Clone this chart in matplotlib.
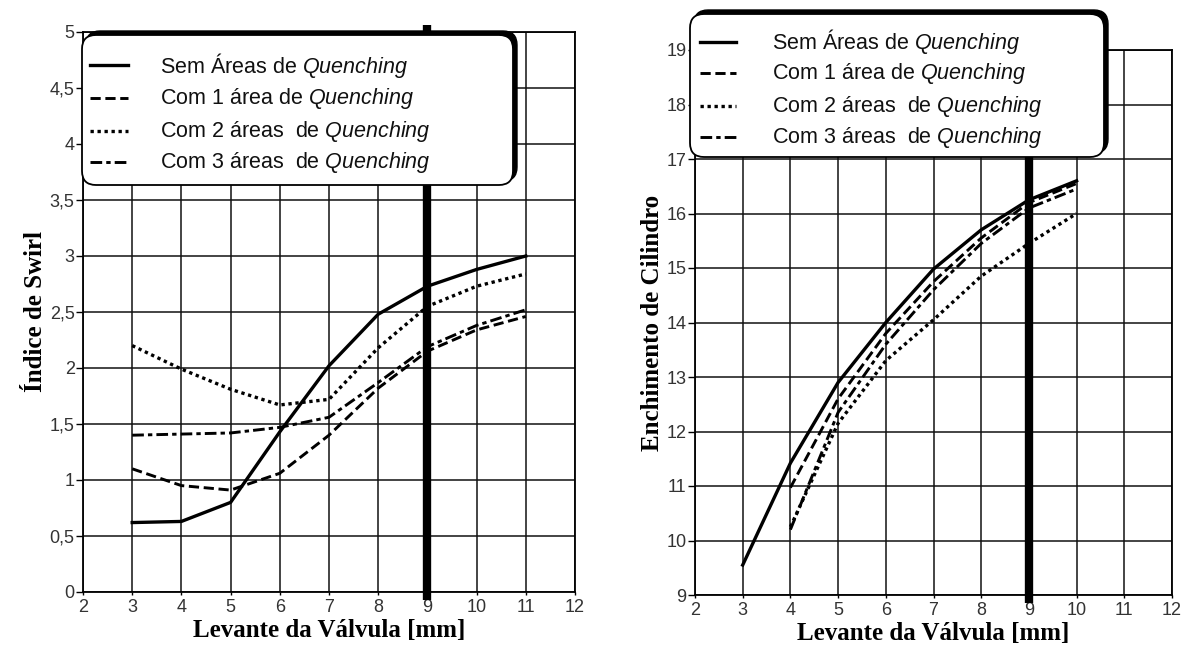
import matplotlib
matplotlib.use("Agg")
import matplotlib.pyplot as plt
from matplotlib.patches import FancyBboxPatch
from matplotlib.lines import Line2D
from matplotlib.ticker import FuncFormatter, MultipleLocator

plt.rcParams['font.family'] = ['Liberation Sans', 'DejaVu Sans']
plt.rcParams['mathtext.fontset'] = 'custom'
plt.rcParams['mathtext.it'] = 'Liberation Sans:italic'
plt.rcParams['mathtext.rm'] = 'Liberation Sans'

# levante da válvula [mm]
lift_swirl = [3, 4, 5, 6, 7, 8, 9, 10, 11]
# índice de swirl por configuração
swirl_sem = [0.62, 0.63, 0.80, 1.43, 2.02, 2.48, 2.73, 2.88, 3.00]
swirl_1 = [1.10, 0.95, 0.91, 1.06, 1.40, 1.82, 2.15, 2.34, 2.46]
swirl_2 = [2.20, 1.99, 1.81, 1.67, 1.72, 2.18, 2.55, 2.73, 2.84]
swirl_3 = [1.40, 1.41, 1.42, 1.47, 1.56, 1.87, 2.19, 2.38, 2.52]

# enchimento de cilindro
lift_fill_sem = [3, 4, 5, 6, 7, 8, 9, 10]
lift_fill_com = [4, 5, 6, 7, 8, 9, 10]
fill_sem = [9.55, 11.42, 12.9, 14.0, 14.98, 15.7, 16.25, 16.6]
fill_1 = [10.97, 12.6, 13.8, 14.75, 15.55, 16.2, 16.55]
fill_2 = [10.25, 12.15, 13.3, 14.05, 14.85, 15.45, 16.0]
fill_3 = [10.2, 12.35, 13.6, 14.6, 15.45, 16.1, 16.45]

labels = ["Sem Áreas de $\\mathit{Quenching}$",
          "Com 1 área de $\\mathit{Quenching}$",
          "Com 2 áreas  de $\\mathit{Quenching}$",
          "Com 3 áreas  de $\\mathit{Quenching}$"]

lift_ref = 9  # levante de referência (linha grossa)

estilos = [dict(ls='-', lw=2.4),
           dict(ls=(0, (3.5, 1.6)), lw=2.1),
           dict(ls=(0, (1, 1.1)), lw=2.4),
           dict(ls=(0, (4, 1.4, 1.5, 1.4)), lw=2.1)]

W, H = 11.94, 6.51
fig = plt.figure(figsize=(W, H), dpi=100)
ax1 = fig.add_axes([83 / 1194, 59 / 651, 492 / 1194, 560 / 651])
ax2 = fig.add_axes([695 / 1194, 56 / 651, 477 / 1194, 545 / 651])


def virgula(v, pos):
    return f"{v:g}".replace('.', ',')


def prepara(ax, ylim, ystep, ylabel):
    ax.set_xlim(2, 12)
    ax.set_ylim(*ylim)
    ax.xaxis.set_major_locator(MultipleLocator(1))
    ax.yaxis.set_major_locator(MultipleLocator(ystep))
    ax.yaxis.set_major_formatter(FuncFormatter(virgula))
    ax.grid(True, color='#111111', lw=1.1)
    ax.set_axisbelow(True)
    for s in ax.spines.values():
        s.set_linewidth(1.3)
    ax.tick_params(axis='y', direction='out', length=5, width=1,
                   labelsize=13, labelcolor='#333333', pad=1)
    ax.tick_params(axis='x', direction='out', length=2, width=1,
                   labelsize=13, labelcolor='#333333', pad=3)
    serif = dict(fontfamily='Liberation Serif', fontweight='bold', fontsize=18)
    ax.set_xlabel('Levante da Válvula [mm]', labelpad=2, **serif)
    ax.set_ylabel(ylabel, labelpad=2, **serif)
    ax.axvline(lift_ref, ymin=-0.015, ymax=1.013, color='black', lw=6,
               clip_on=False, zorder=3, solid_capstyle='butt')


def caixa(x0, y0, x1, y1, sx0, sx1, tx, linhas):
    # caixa de legenda arredondada com sombra, em pixels a partir do topo
    sombra = FancyBboxPatch(((x0 + 4) / 100, H - (y1 - 4) / 100),
                            (x1 - x0) / 100, (y1 - y0) / 100,
                            boxstyle="round,pad=0,rounding_size=0.14",
                            transform=fig.dpi_scale_trans,
                            fc='black', ec='black', lw=1, zorder=5)
    frente = FancyBboxPatch((x0 / 100, H - y1 / 100),
                            (x1 - x0) / 100, (y1 - y0) / 100,
                            boxstyle="round,pad=0,rounding_size=0.14",
                            transform=fig.dpi_scale_trans,
                            fc='white', ec='black', lw=1.3, zorder=6)
    fig.add_artist(sombra)
    fig.add_artist(frente)
    for ry, lab, st in zip(linhas, labels, estilos):
        fig.add_artist(Line2D([sx0 / 100, sx1 / 100], [H - ry / 100] * 2,
                              transform=fig.dpi_scale_trans, color='black',
                              zorder=7, **st))
        fig.text(tx / 100, H - ry / 100, lab, transform=fig.dpi_scale_trans,
                 va='center', ha='left', fontsize=15.5, color='#111111', zorder=7)


prepara(ax1, (0, 5), 0.5, 'Índice de Swirl')
for ys, st in zip([swirl_sem, swirl_1, swirl_2, swirl_3], estilos):
    ax1.plot(lift_swirl, ys, color='black', zorder=4, **st)

prepara(ax2, (9, 19), 1, 'Enchimento de Cilindro')
ax2.plot(lift_fill_sem, fill_sem, color='black', zorder=4, **estilos[0])
for ys, st in zip([fill_1, fill_2, fill_3], estilos[1:]):
    ax2.plot(lift_fill_com, ys, color='black', zorder=4, **st)

caixa(82, 35, 513, 185, 90, 128, 160, [65, 98, 131, 162])
caixa(690, 14, 1104, 157, 700, 736, 772, [42, 73, 106, 137])

fig.savefig('out.png', dpi=100)
